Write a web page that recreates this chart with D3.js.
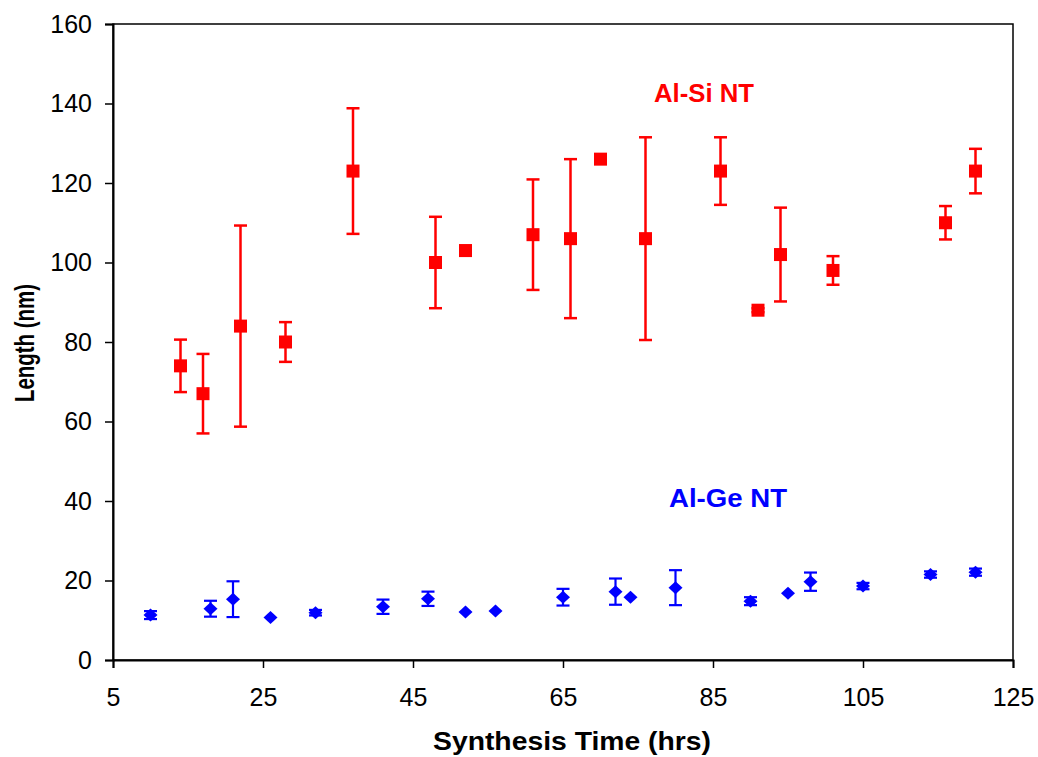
<!DOCTYPE html>
<html>
<head>
<meta charset="utf-8">
<script src="https://cdn.jsdelivr.net/npm/d3@7"></script>
<style>
  html, body { margin: 0; padding: 0; background: #fff; }
  svg { display: block; font-family: "Liberation Sans", Arial, sans-serif; }
</style>
</head>
<body>
<svg id="chart" width="1038" height="757"></svg>
<script>
// Al-Si NT series (red squares)
const siTime   = [14, 17, 22, 28, 37, 48, 52, 61, 66, 70, 76, 86, 91, 94, 101, 116, 120];
const siLength = [74, 67, 84, 80, 123, 100, 103, 107, 106, 126, 106, 123, 88, 102, 98, 110, 123];
const siError  = [6.6, 10, 25.3, 5, 15.8, 11.5, 1.2, 13.9, 20, 0.5, 25.5, 8.5, 0.5, 11.8, 3.6, 4.2, 5.6];

// Al-Ge NT series (blue diamonds)
const geTime   = [10, 18, 21, 26, 32, 41, 47, 52, 56, 65, 72, 74, 80, 90, 95, 98, 105, 114, 120];
const geLength = [11.3, 12.9, 15.3, 10.7, 11.9, 13.4, 15.4, 12.1, 12.3, 15.8, 17.2, 15.8, 18.2, 14.8, 16.8, 19.7, 18.6, 21.5, 22.1];
const geError  = [1.0, 2.0, 4.5, 0, 0.7, 1.8, 1.8, 0, 0, 2.1, 3.3, 0, 4.4, 1.0, 0, 2.3, 0.8, 0.8, 0.9];

const xTicks = [5, 25, 45, 65, 85, 105, 125];
const yTicks = [0, 20, 40, 60, 80, 100, 120, 140, 160];

const xTitle = "Synthesis Time (hrs)";
const yTitle = "Length (nm)";
const siLabel = "Al-Si NT";
const geLabel = "Al-Ge NT";

const svg = d3.select("#chart");
const pLeft = 113, pRight = 1013, pTop = 24, pBottom = 660;

const x = d3.scaleLinear().domain([5, 125]).range([pLeft, pRight]);
const y = d3.scaleLinear().domain([0, 160]).range([pBottom, pTop]);

// plot border
svg.append("rect")
  .attr("x", pLeft).attr("y", pTop)
  .attr("width", pRight - pLeft).attr("height", pBottom - pTop)
  .attr("fill", "none").attr("stroke", "#000").attr("stroke-width", 1.5);

// axes
const yAxis = svg.append("g")
  .attr("transform", `translate(${pLeft},0)`)
  .call(d3.axisLeft(y).tickValues(yTicks).tickSize(8).tickPadding(13).tickFormat(d3.format("d")));
const xAxis = svg.append("g")
  .attr("transform", `translate(0,${pBottom})`)
  .call(d3.axisBottom(x).tickValues(xTicks).tickSize(8).tickPadding(20).tickFormat(d3.format("d")));

[yAxis, xAxis].forEach(g => {
  g.select(".domain").attr("stroke", "#000").attr("stroke-width", 2);
  g.selectAll(".tick line").attr("stroke", "#000").attr("stroke-width", 1.5);
  g.selectAll(".tick text")
    .attr("fill", "#000")
    .style("font-family", '"Liberation Sans", Arial, sans-serif')
    .style("font-size", "25px");
});

// axis titles
svg.append("text")
  .attr("x", 572).attr("y", 750)
  .attr("text-anchor", "middle")
  .attr("textLength", 278).attr("lengthAdjust", "spacingAndGlyphs")
  .style("font-size", "25px").style("font-weight", "bold")
  .text(xTitle);
svg.append("text")
  .attr("transform", "translate(34,343) rotate(-90)")
  .attr("text-anchor", "middle")
  .attr("textLength", 118).attr("lengthAdjust", "spacingAndGlyphs")
  .style("font-size", "27px").style("font-weight", "bold")
  .text(yTitle);

// error bars helper
function drawErrorBars(data, color, capW, sw) {
  const g = svg.append("g");
  const eb = g.selectAll("g").data(data.filter(d => d.e > 0)).join("g");
  eb.append("line")
    .attr("x1", d => x(d.t)).attr("x2", d => x(d.t))
    .attr("y1", d => y(d.v + d.e)).attr("y2", d => y(d.v - d.e))
    .attr("stroke", color).attr("stroke-width", sw);
  eb.append("line")
    .attr("x1", d => x(d.t) - capW / 2).attr("x2", d => x(d.t) + capW / 2)
    .attr("y1", d => y(d.v + d.e)).attr("y2", d => y(d.v + d.e))
    .attr("stroke", color).attr("stroke-width", sw);
  eb.append("line")
    .attr("x1", d => x(d.t) - capW / 2).attr("x2", d => x(d.t) + capW / 2)
    .attr("y1", d => y(d.v - d.e)).attr("y2", d => y(d.v - d.e))
    .attr("stroke", color).attr("stroke-width", sw);
}

const siData = siTime.map((t, i) => ({ t, v: siLength[i], e: siError[i] }));
const geData = geTime.map((t, i) => ({ t, v: geLength[i], e: geError[i] }));

drawErrorBars(siData, "#FF0000", 13, 2.5);
svg.append("g").selectAll("rect").data(siData).join("rect")
  .attr("x", d => x(d.t) - 6.5).attr("y", d => y(d.v) - 6.5)
  .attr("width", 13).attr("height", 13)
  .attr("fill", "#FF0000");

drawErrorBars(geData, "#0000FF", 13, 2.2);
svg.append("g").selectAll("path").data(geData).join("path")
  .attr("d", "M0,-6.5 L7,0 L0,6.5 L-7,0 Z")
  .attr("transform", d => `translate(${x(d.t)},${y(d.v)})`)
  .attr("fill", "#0000FF");

// series labels
svg.append("text")
  .attr("x", 704).attr("y", 102)
  .attr("text-anchor", "middle")
  .attr("fill", "#FF0000")
  .attr("textLength", 100).attr("lengthAdjust", "spacingAndGlyphs")
  .style("font-size", "25px").style("font-weight", "bold")
  .text(siLabel);
svg.append("text")
  .attr("x", 728).attr("y", 507)
  .attr("text-anchor", "middle")
  .attr("fill", "#0000FF")
  .attr("textLength", 118).attr("lengthAdjust", "spacingAndGlyphs")
  .style("font-size", "26px").style("font-weight", "bold")
  .text(geLabel);
</script>
</body>
</html>
